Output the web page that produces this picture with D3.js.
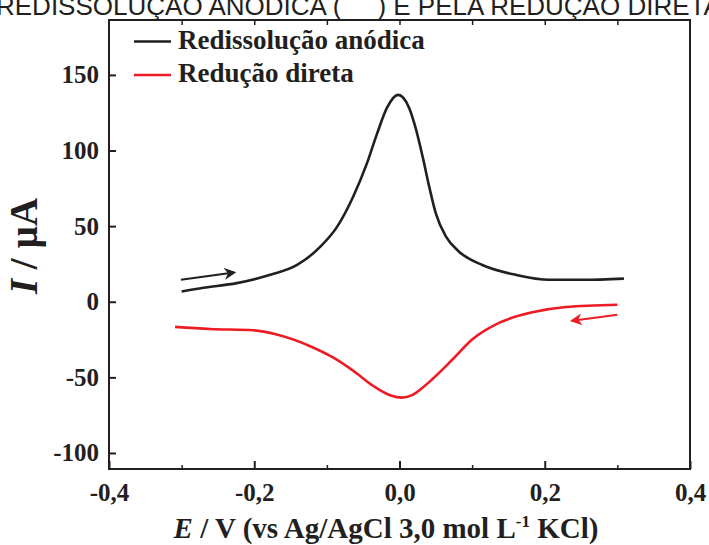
<!DOCTYPE html>
<html><head><meta charset="utf-8">
<script src="https://cdn.jsdelivr.net/npm/d3@7"></script>
<style>
html,body{margin:0;padding:0;background:#fff;}
svg{display:block;}
</style></head>
<body>
<svg id="c" width="709" height="545"></svg>
<script>
// ---- data ----
const anodicE = [-0.300,-0.270,-0.224,-0.178,-0.141,-0.109,-0.086,-0.064,-0.045,-0.031,-0.017,-0.002,0.013,0.022,0.032,0.041,0.050,0.064,0.082,0.114,0.160,0.206,0.252,0.309];
const anodicI = [6.8,9.2,12.3,17.8,24.3,36.4,49.5,69.3,91.3,111,128.5,136.8,128.5,115.3,95.6,75.9,58.4,43,33.1,24.3,17.8,14.5,14.5,15.3];
const directE = [-0.309,-0.261,-0.201,-0.169,-0.123,-0.091,-0.063,-0.036,-0.012,0.003,0.018,0.030,0.045,0.073,0.100,0.137,0.183,0.229,0.300];
const directI = [-16.6,-18,-18.9,-21.7,-29.4,-37,-45.9,-55.7,-62.0,-63.4,-61.6,-57.5,-51.3,-38.2,-25,-14,-7,-3.5,-2];
const xTicks = [-0.4,-0.2,0.0,0.2,0.4];
const xMinor = [-0.3,-0.1,0.1,0.3];
const xTop = [-0.3,-0.2,-0.1,0.0,0.1,0.2,0.3];
const yTicks = [-100,-50,0,50,100,150];
const seriesNames = ["Redissolução anódica","Redução direta"];
const seriesColors = ["#231f20","#ed1c24"];
// scan-direction arrows [E0, I0, E1, I1]
const arrowBlack = [-0.301,14.5,-0.228,19.3];
const arrowRed = [0.300,-8.6,0.238,-12.5];

const svg = d3.select("#c");
const L=109, R=690, T=20, B=469;
const x = d3.scaleLinear().domain([-0.4,0.4]).range([L,R]);
const y = d3.scaleLinear().domain([-110.6,186.3]).range([B,T]);
const ink = "#231f20";
const serif = "'Liberation Serif','Times New Roman',serif";

// cropped caption at top
svg.append("text").attr("x",-4).attr("y",14.5)
  .attr("font-family","'Liberation Sans',Arial,sans-serif").attr("font-size",26)
  .attr("fill","#231f20")
  .text("REDISSOLUÇÃO ANÓDICA (\u00a0\u00a0\u00a0\u00a0\u00a0) E PELA REDUÇÃO DIRETA");

// curves
const line = d3.line().x(d=>x(d[0])).y(d=>y(d[1])).curve(d3.curveMonotoneX);
svg.append("path").datum(anodicE.map((e,i)=>[e,anodicI[i]]))
  .attr("d",line).attr("fill","none").attr("stroke",seriesColors[0]).attr("stroke-width",2.6);
svg.append("path").datum(directE.map((e,i)=>[e,directI[i]]))
  .attr("d",line).attr("fill","none").attr("stroke",seriesColors[1]).attr("stroke-width",2.6);

// arrows
const defs = svg.append("defs");
seriesColors.forEach((c,i)=>{
  defs.append("marker").attr("id","ah"+i).attr("viewBox","0 0 10 10").attr("refX",8).attr("refY",5)
    .attr("markerWidth",6).attr("markerHeight",6).attr("orient","auto").attr("markerUnits","strokeWidth")
    .append("path").attr("d","M0,0 L10,5 L0,10 L3,5 Z").attr("fill",c);
});
[[arrowBlack,0],[arrowRed,1]].forEach(([a,i])=>{
  svg.append("line").attr("x1",x(a[0])).attr("y1",y(a[1])).attr("x2",x(a[2])).attr("y2",y(a[3]))
    .attr("stroke",seriesColors[i]).attr("stroke-width",2).attr("marker-end","url(#ah"+i+")");
});

// frame
svg.append("rect").attr("x",L).attr("y",T).attr("width",R-L).attr("height",B-T)
  .attr("fill","none").attr("stroke",ink).attr("stroke-width",2);

const fmt = d=> d.toFixed(1).replace(".",",");
// bottom axis
const gx = svg.append("g").attr("transform",`translate(0,${B})`)
  .call(d3.axisBottom(x).tickValues(xTicks).tickSize(-8).tickPadding(14).tickFormat(fmt));
gx.select(".domain").remove();
gx.selectAll("line").attr("stroke",ink).attr("stroke-width",2);
gx.selectAll("text").attr("font-family",serif).attr("font-weight","bold").attr("font-size",25).attr("fill",ink);
const gxm = svg.append("g").attr("transform",`translate(0,${B})`)
  .call(d3.axisBottom(x).tickValues(xMinor).tickSize(-4).tickFormat(""));
gxm.select(".domain").remove();
gxm.selectAll("line").attr("stroke",ink).attr("stroke-width",1.5);
// top axis
const gt = svg.append("g").attr("transform",`translate(0,${T})`)
  .call(d3.axisTop(x).tickValues(xTop).tickSize(-5).tickFormat(""));
gt.select(".domain").remove();
gt.selectAll("line").attr("stroke",ink).attr("stroke-width",1.5);
// left axis
const gy = svg.append("g").attr("transform",`translate(${L},0)`)
  .call(d3.axisLeft(y).tickValues(yTicks).tickSize(-7).tickPadding(10).tickFormat(d=>String(d)));
gy.select(".domain").remove();
gy.selectAll("line").attr("stroke",ink).attr("stroke-width",2);
gy.selectAll("text").attr("font-family",serif).attr("font-weight","bold").attr("font-size",25).attr("fill",ink);

// legend
const lg = [[41.5,49],[75,82]];
seriesNames.forEach((n,i)=>{
  svg.append("line").attr("x1",134).attr("x2",171).attr("y1",lg[i][0]).attr("y2",lg[i][0])
    .attr("stroke",seriesColors[i]).attr("stroke-width",2.6);
  svg.append("text").attr("x",178).attr("y",lg[i][1]).attr("font-family",serif).attr("font-weight","bold")
    .attr("font-size",27).attr("fill",ink).text(n);
});

// axis titles
const xt = svg.append("text").attr("x",386).attr("y",538).attr("text-anchor","middle")
  .attr("font-family",serif).attr("font-weight","bold").attr("font-size",29).attr("fill",ink);
xt.append("tspan").attr("font-style","italic").text("E");
xt.append("tspan").text(" / V (vs Ag/AgCl 3,0 mol L");
xt.append("tspan").attr("font-size",17).attr("dy",-11).text("-1");
xt.append("tspan").attr("dy",11).text(" KCl)");

const yt = svg.append("text").attr("transform","translate(37,246) rotate(-90)").attr("text-anchor","middle")
  .attr("font-family",serif).attr("font-weight","bold").attr("font-size",39).attr("fill",ink);
yt.append("tspan").attr("font-style","italic").text("I");
yt.append("tspan").text(" / µA");
</script>
</body></html>
